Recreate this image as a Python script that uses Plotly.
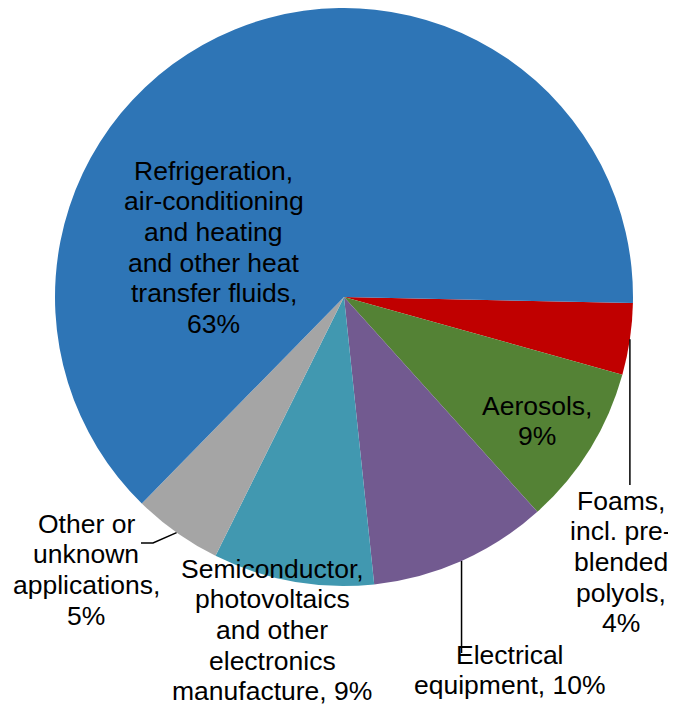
import math
import plotly.graph_objects as go

# ---------------- data ----------------
labels = [
    "Foams, incl. pre-blended polyols",
    "Aerosols",
    "Electrical equipment",
    "Semiconductor, photovoltaics and other electronics manufacture",
    "Other or unknown applications",
    "Refrigeration, air-conditioning and heating and other heat transfer fluids",
]
values = [4, 9, 10, 9, 5, 63]
# label text lines ({p} is replaced by the slice percentage)
label_lines = [
    ["Foams,", "incl. pre-", "blended", "polyols,", "{p}"],
    ["Aerosols,", "{p}"],
    ["Electrical", "equipment, {p}"],
    ["Semiconductor,", "photovoltaics", "and other", "electronics", "manufacture, {p}"],
    ["Other or", "unknown", "applications,", "{p}"],
    ["Refrigeration,", "air-conditioning", "and heating", "and other heat",
     "transfer fluids,", "{p}"],
]
colors = ["#C00000", "#548235", "#725A90", "#4198B0", "#A5A5A5", "#2E75B6"]

# ---------------- layout config (page pixels) ----------------
PAGE_W, PAGE_H = 676, 705
OFF = 8                      # default page body margin
W, H = PAGE_W - OFF, PAGE_H - OFF
CX, CY, R = 344, 297, 289
ROTATION = 91.2
FONT = "Liberation Sans, Arial, sans-serif"
FS = 26.5
LINE_GAP = 30.6
# (center x, first baseline y) for each label block
label_pos = [(621, 510), (536.5, 415), (510, 664), (272, 578), (86, 533), (213.5, 180)]
# leader line waypoints after the slice edge point (None = keep x of edge point)
leaders = [[(None, 485)], None, [(None, 653)], None, [(153, 543), (141, 543)], None]


def px(x):
    return (x - OFF) / W


def py(y):
    return 1 - (y - OFF) / H


fig = go.Figure(go.Pie(
    labels=labels,
    values=values,
    sort=False,
    direction="clockwise",
    rotation=ROTATION,
    marker=dict(colors=colors, line=dict(width=0)),
    textinfo="none",
    textposition="none",
    hoverinfo="label+percent",
    showlegend=False,
    domain=dict(x=[px(CX - R), px(CX + R)], y=[py(CY + R), py(CY - R)]),
))

total = sum(values)
annotations = []
shapes = []
cum = 0
for i, v in enumerate(values):
    pct = f"{round(100 * v / total)}%"
    mid = math.radians(ROTATION + 360 * (cum + v / 2) / total)
    cum += v
    ex = CX + R * math.sin(mid)
    ey = CY - R * math.cos(mid)
    cx0, by0 = label_pos[i]
    for k, line in enumerate(label_lines[i]):
        base = by0 + k * LINE_GAP
        annotations.append(dict(
            text=line.replace("{p}", pct),
            x=px(cx0), y=py(base - 0.3465 * FS),
            xref="paper", yref="paper", xanchor="center", yanchor="middle",
            borderpad=0,
            showarrow=False, font=dict(family=FONT, size=FS, color="black"),
        ))
    if leaders[i]:
        pts = [(ex, ey)]
        for (lx, ly) in leaders[i]:
            pts.append((ex if lx is None else lx, ly))
        path = "M " + " L ".join(f"{px(a):.5f},{py(b):.5f}" for a, b in pts)
        shapes.append(dict(type="path", path=path, xref="paper", yref="paper",
                           line=dict(color="black", width=1.5)))

fig.update_layout(
    width=W, height=H,
    margin=dict(l=0, r=0, t=0, b=0),
    paper_bgcolor="white", plot_bgcolor="white",
    annotations=annotations,
    shapes=shapes,
)

fig.write_html("out.html")
